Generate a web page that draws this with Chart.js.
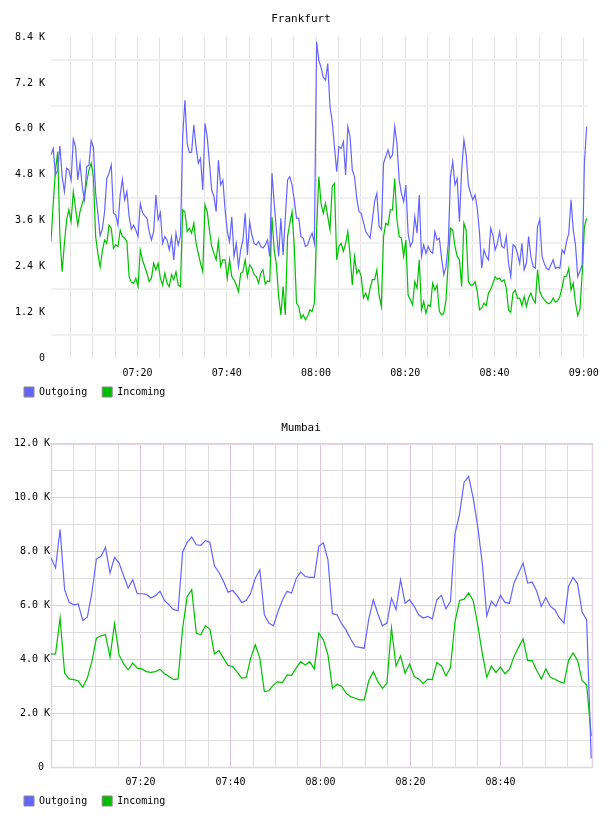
<!DOCTYPE html>
<html><head><meta charset="utf-8">
<script src="https://cdn.jsdelivr.net/npm/chart.js@4/dist/chart.umd.min.js"></script>
<style>
html,body{margin:0;padding:0;background:#fff;width:608px;height:816px;overflow:hidden;position:relative}
.box{position:absolute;left:0;width:608px}
canvas{display:block}
</style></head><body>
<div class="box" style="top:0px"><canvas id="c1" width="608" height="407"></canvas></div>
<div class="box" style="top:408px"><canvas id="c2" width="608" height="408"></canvas></div>
<script>
// ---------- DATA (values in K) ----------
const seriesNames = ['Outgoing', 'Incoming'];
const chartTitles = ['Frankfurt', 'Mumbai'];

// Frankfurt: one sample every 30 s, minutes after 07:00
const frankfurtStart = 0.63, frankfurtStep = 0.5;
const frankfurtOut = [
5.32,5.49,4.79,4.92,5.55,4.75,4.36,4.97,4.92,4.66,
5.73,5.53,4.66,5.11,4.49,4.14,5.01,5.05,5.69,5.52,
4.31,3.79,3.20,3.37,3.83,4.70,4.84,5.05,3.79,3.75,
3.48,4.27,4.68,4.14,4.36,3.70,3.37,3.48,3.35,3.18,
4.05,3.81,3.72,3.66,3.31,3.09,3.31,4.27,3.62,3.81,
3.00,3.18,3.09,2.83,3.16,2.57,3.27,2.96,3.20,5.80,
6.75,5.62,5.38,5.39,6.10,5.53,5.10,5.23,4.40,6.14,
5.79,5.10,4.40,4.23,3.83,5.18,4.53,4.66,3.88,3.31,
3.05,3.70,2.66,3.00,2.39,2.83,3.09,3.79,2.70,3.57,
3.22,3.00,2.96,3.05,2.92,2.88,2.96,3.09,2.66,4.84,
4.05,3.35,2.66,3.66,2.70,3.70,4.66,4.75,4.53,4.14,
3.66,3.66,3.18,3.14,2.92,2.96,3.14,3.27,3.00,8.28,
7.80,7.61,7.35,7.28,7.71,6.58,6.19,5.53,4.88,5.53,
5.49,5.66,4.79,6.06,5.79,4.92,4.75,4.18,3.83,3.79,
3.55,3.31,3.22,3.14,3.62,4.10,4.31,3.44,3.37,5.10,
5.27,5.45,5.23,5.32,6.06,5.62,4.66,4.31,4.10,4.53,
3.27,2.92,3.05,3.70,3.27,4.27,2.66,2.96,2.74,2.92,
2.79,2.74,3.31,3.09,3.14,2.61,2.18,2.40,3.00,4.75,
5.14,4.53,4.70,3.57,4.92,5.71,5.32,4.53,4.31,4.14,
4.27,3.92,3.27,2.35,2.83,2.66,2.57,3.40,3.22,2.83,
3.00,3.31,2.92,2.88,3.18,2.48,2.13,2.96,2.92,2.74,
2.48,3.00,2.31,2.48,3.18,2.66,2.40,2.35,3.44,3.63,
2.66,2.48,2.35,2.31,2.44,2.57,2.35,2.38,2.35,2.83,
2.74,3.05,3.27,4.14,3.35,2.96,2.13,2.27,2.44,5.10,6.06];
const frankfurtIn = [
3.05,4.05,4.92,5.40,3.18,2.26,3.00,3.62,3.88,3.57,
4.36,3.92,3.48,3.83,4.05,4.23,4.62,4.92,5.10,4.75,
3.18,2.74,2.38,2.79,3.09,3.00,3.48,3.40,2.87,2.96,
2.92,3.35,3.18,3.14,3.05,2.13,1.98,1.96,2.09,1.87,
2.83,2.57,2.39,2.22,2.00,2.09,2.48,2.31,2.48,2.09,
1.91,2.22,1.96,1.87,2.18,2.05,2.26,1.91,1.87,3.88,
3.83,3.31,3.40,3.27,3.53,3.00,2.74,2.48,2.26,4.01,
3.83,3.35,2.92,2.74,2.57,3.05,2.40,2.57,2.57,2.09,
2.57,2.13,2.05,1.91,1.74,2.22,2.26,2.57,2.13,2.44,
2.35,2.18,2.13,1.96,2.22,2.31,1.94,2.02,2.00,3.70,
2.83,2.44,1.61,1.13,1.87,1.13,3.18,3.53,3.83,2.92,
1.44,1.35,1.04,1.13,1.00,1.10,1.26,1.22,1.44,3.35,
4.75,4.05,3.79,4.05,3.70,3.35,4.49,4.57,2.57,2.92,
3.00,2.79,3.00,3.31,2.70,1.91,2.66,2.22,2.31,2.13,
1.57,1.70,1.53,1.83,2.05,2.05,2.31,1.65,1.35,3.18,
3.53,3.48,3.88,3.88,4.70,3.62,3.18,3.14,2.66,3.09,
1.65,1.53,1.39,2.00,1.83,2.57,1.26,1.48,1.17,1.39,
1.35,1.96,1.78,1.91,1.22,1.13,1.17,1.53,2.53,3.40,
3.35,2.92,2.66,2.57,1.87,3.53,3.35,2.00,1.91,1.91,
2.00,1.74,1.26,1.31,1.44,1.37,1.70,1.80,1.96,2.13,
2.06,2.09,2.00,2.05,1.83,1.26,1.20,1.70,1.78,1.57,
1.57,1.37,1.61,1.35,1.57,1.70,1.53,1.44,2.31,1.74,
1.61,1.53,1.46,1.42,1.46,1.57,1.46,1.50,1.61,1.85,
2.14,2.14,2.35,1.78,1.96,1.44,1.11,1.28,2.22,3.44,3.66];

// Mumbai: about one sample per minute
const mumbaiStart = 0.1, mumbaiStep = 1.009;
const mumbaiOut = [
7.76,7.39,8.81,6.58,6.11,6.02,6.05,5.44,5.56,6.46,
7.72,7.82,8.15,7.20,7.78,7.57,7.10,6.64,6.95,6.43,
6.43,6.41,6.27,6.36,6.52,6.18,6.02,5.84,5.80,7.98,
8.34,8.54,8.25,8.23,8.40,8.34,7.47,7.22,6.89,6.49,
6.55,6.36,6.11,6.18,6.46,7.01,7.32,5.65,5.34,5.24,
5.77,6.20,6.52,6.46,6.99,7.24,7.07,7.04,7.04,8.19,
8.32,7.70,5.69,5.65,5.32,5.09,4.75,4.47,4.44,4.41,
5.49,6.21,5.69,5.24,5.34,6.27,5.84,6.95,6.08,6.21,
5.96,5.65,5.53,5.59,5.50,6.21,6.37,5.87,6.15,8.66,
9.39,10.57,10.79,9.99,8.93,7.57,5.61,6.15,5.96,6.37,
6.11,6.08,6.83,7.20,7.57,6.83,6.87,6.52,5.96,6.29,
5.96,5.84,5.53,5.34,6.70,7.04,6.80,5.75,5.46,0.32];
const mumbaiIn = [
4.19,4.20,5.53,3.48,3.27,3.24,3.20,2.96,3.30,3.91,
4.78,4.87,4.91,4.08,5.32,4.16,3.83,3.61,3.86,3.67,
3.64,3.54,3.51,3.54,3.63,3.46,3.36,3.24,3.27,5.16,
6.33,6.58,4.97,4.91,5.24,5.12,4.20,4.32,4.04,3.77,
3.73,3.52,3.30,3.32,4.04,4.54,4.04,2.80,2.83,3.05,
3.16,3.13,3.42,3.40,3.67,3.91,3.79,3.91,3.64,4.97,
4.72,4.16,2.92,3.07,3.00,2.74,2.61,2.55,2.49,2.49,
3.20,3.54,3.17,2.92,3.11,5.16,3.75,4.13,3.48,3.82,
3.36,3.27,3.09,3.26,3.24,3.88,3.75,3.38,3.69,5.40,
6.18,6.23,6.46,6.18,5.28,4.23,3.33,3.75,3.51,3.71,
3.46,3.63,4.10,4.45,4.75,3.95,3.95,3.58,3.27,3.64,
3.33,3.26,3.17,3.11,3.95,4.23,3.95,3.20,3.05,1.15];

// Tick values
const frankfurtYLabels = [0, 1.2, 2.4, 3.6, 4.8, 6.0, 7.2, 8.4];
const frankfurtYGrid = [0.6, 1.8, 3.0, 4.2, 5.4, 6.6, 7.8];
const mumbaiYLabels = [0, 2, 4, 6, 8, 10, 12];
const mumbaiYGrid = [1, 3, 5, 7, 9, 11];
const frankfurtXGrid = [5,10,15,20,25,30,35,40,45,50,55,60,65,70,75,80,85,90,95,100,105,110,115,120];
const mumbaiXGrid = [5,10,15,20,25,30,35,40,45,50,55,60,65,70,75,80,85,90,95,100,105,110,115];
const frankfurtXLabels = [20, 40, 60, 80, 100, 120];
const mumbaiXLabels = [20, 40, 60, 80, 100];

// ---------- RENDER ----------
Chart.defaults.font.family = "'DejaVu Sans Mono', monospace";
Chart.defaults.color = '#000';
Chart.defaults.animation = false;

const has = (arr, v) => arr.some(a => Math.abs(a - v) < 1e-6);
const fmtTime = t => { const m = Math.round(t); const h = 7 + Math.floor(m / 60); const mm = m % 60;
  return String(h).padStart(2,'0') + ':' + String(mm).padStart(2,'0'); };
const toPts = (start, step, vals) => vals.map((v, i) => ({x: start + i * step, y: v}));

const frame = {
  id: 'frame',
  beforeDatasetsDraw(chart, args, opts) {
    if (!opts || !opts.color) return;
    const {left, top, right, bottom} = chart.chartArea;
    const ctx = chart.ctx;
    ctx.save();
    ctx.strokeStyle = opts.color; ctx.lineWidth = opts.width || 1;
    ctx.strokeRect(left + 0.5, top + 0.5, right - left - 1, bottom - top);
    ctx.restore();
  }
};

function build(id, cfg) {
  const blue = '#6464ff', green = '#00bf00';
  new Chart(document.getElementById(id), {
    type: 'line',
    data: { datasets: [
      { label: seriesNames[0], data: cfg.out, borderColor: blue, backgroundColor: blue, borderWidth: 1.2, pointRadius: 0, tension: 0, fill: false },
      { label: seriesNames[1], data: cfg.inc, borderColor: green, backgroundColor: green, borderWidth: 1.2, pointRadius: 0, tension: 0, fill: false }
    ]},
    plugins: [frame],
    options: {
      responsive: false,
      layout: { padding: { left: 9, right: 15, top: 0, bottom: 0 } },
      plugins: {
        frame: cfg.frame,
        tooltip: { enabled: false },
        title: { display: true, text: cfg.title, color: '#000', font: { size: 11, weight: 'normal' }, padding: cfg.titlePad },
        legend: { position: 'bottom', align: 'start',
          labels: { boxWidth: 10, boxHeight: 10, padding: 15, font: { size: 10 }, color: '#000',
            generateLabels: ch => ch.data.datasets.map((ds, i) => ({ text: ds.label, fillStyle: ds.backgroundColor, strokeStyle: '#888', lineWidth: 1, hidden: false, datasetIndex: i, fontColor: '#000' })) } }
      },
      scales: {
        x: { type: 'linear', min: cfg.xmin, max: cfg.xmax,
          afterBuildTicks: s => { s.ticks = cfg.xGrid.map(v => ({value: v})); },
          afterFit: s => { s.height = 14; s._computeLabelArea = () => undefined; },
          ticks: { autoSkip: false, maxRotation: 0, minRotation: 0, padding: 9, font: { size: 10 }, color: '#000',
            callback: v => has(cfg.xLabels, v) ? fmtTime(v) : '' },
          grid: { drawTicks: false, color: ctx => ctx.tick ? cfg.xGridColor(ctx.tick.value) : 'rgba(0,0,0,0)', lineWidth: 1 },
          border: { display: false } },
        y: { type: 'linear', min: 0, max: cfg.ymax,
          afterBuildTicks: s => { s.ticks = cfg.yLabels.concat(cfg.yGrid).sort((a,b)=>a-b).map(v => ({value: v})); },
          afterFit: s => { s.width = 42; s._computeLabelArea = () => undefined; },
          ticks: { autoSkip: false, padding: cfg.yPad, font: { size: 10 }, color: '#000',
            callback: v => has(cfg.yLabels, v) ? (v === 0 ? cfg.zero : v.toFixed(1) + ' K') : '' },
          grid: { drawTicks: false, color: ctx => ctx.tick ? cfg.yGridColor(ctx.tick.value) : 'rgba(0,0,0,0)', lineWidth: cfg.yLineWidth },
          border: { display: false } }
      }
    }
  });
}

build('c1', {
  title: chartTitles[0], titlePad: { top: 13, bottom: 11 },
  out: toPts(frankfurtStart, frankfurtStep, frankfurtOut),
  inc: toPts(frankfurtStart, frankfurtStep, frankfurtIn),
  xmin: 0.63, xmax: 120.89, xGrid: frankfurtXGrid, xLabels: frankfurtXLabels,
  xGridColor: v => '#e3e3e3',
  ymax: 8.4, yLabels: frankfurtYLabels, yGrid: frankfurtYGrid, yPad: 6, zero: '0', yLineWidth: 2,
  yGridColor: v => has(frankfurtYGrid, v) ? '#f0f0f0' : 'rgba(0,0,0,0)',
  frame: {}
});

build('c2', {
  title: chartTitles[1], titlePad: { top: 14, bottom: 8.5 },
  out: toPts(mumbaiStart, mumbaiStep, mumbaiOut),
  inc: toPts(mumbaiStart, mumbaiStep, mumbaiIn),
  xmin: 0.1, xmax: 120.57, xGrid: mumbaiXGrid, xLabels: mumbaiXLabels,
  xGridColor: v => has(mumbaiXLabels, v) ? '#dcc2dc' : '#dedede',
  ymax: 12, yLabels: mumbaiYLabels, yGrid: mumbaiYGrid, yPad: 1, zero: '0 ', yLineWidth: 1,
  yGridColor: v => has(mumbaiYLabels, v) ? '#e2c8e2' : '#dedede',
  frame: { color: '#e6d2e6', width: 1.5 }
});
</script>
</body></html>
